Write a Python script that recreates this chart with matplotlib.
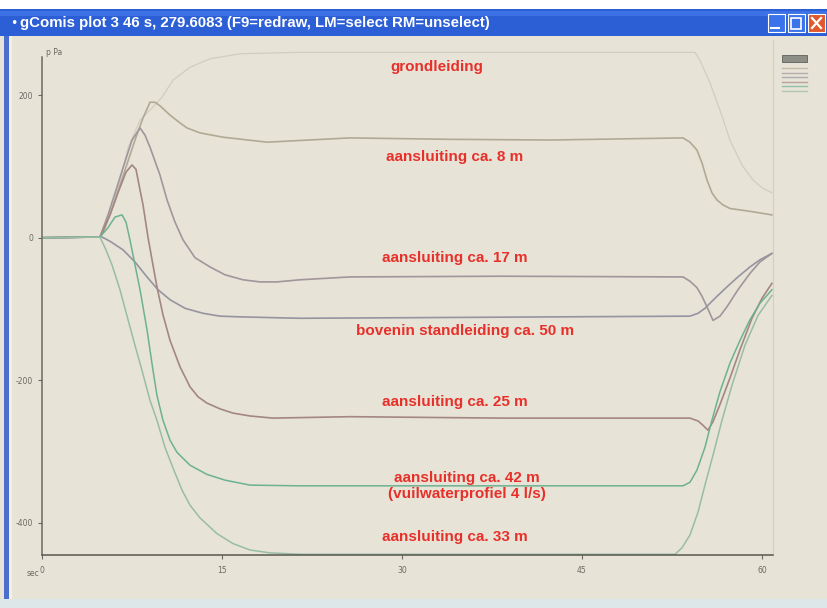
import matplotlib
matplotlib.use("Agg")
from matplotlib import pyplot as plt
from matplotlib.patches import Rectangle
from matplotlib.lines import Line2D

plt.rcParams["axes.unicode_minus"] = False

# tijd (s) en druk (Pa) per meetpunt
t_grond = [0, 4.83, 5.67, 6.5, 7.17, 8.17, 9.0, 10.0, 10.92, 12.33, 14.0, 16.5, 21.5, 54.42,
           54.83, 55.67, 56.5, 57.33, 58.33, 59.25, 60.0, 60.83]
p_grond = [0, 1, 32, 81, 126, 165, 179, 197, 221, 239, 251, 258, 260, 260,
           249, 217, 179, 137, 102, 81, 70, 63]

t_8m = [0, 4.83, 5.17, 6.08, 6.92, 7.75, 8.42, 9.0, 9.42, 9.83, 10.67, 11.5, 12.08, 13.17,
        15.08, 18.75, 25.67, 34.0, 42.33, 53.42, 54.0, 54.58, 55.0, 55.42, 55.83, 56.25,
        56.75, 57.33, 59.0, 60.83]
p_8m = [0, 1, 10, 52, 95, 137, 168, 190, 190, 185, 172, 161, 154, 147,
        141, 134, 140, 138, 137, 140, 134, 123, 105, 81, 63, 53,
        46, 41, 37, 32]

t_17m = [0, 4.83, 5.5, 6.17, 6.83, 7.5, 8.17, 8.58, 9.0, 9.83, 10.42, 11.08, 11.75, 12.75,
         14.0, 15.25, 16.75, 18.17, 19.58, 21.5, 25.67, 38.17, 53.42, 54.0, 54.58, 55.0,
         55.42, 55.92, 56.5, 57.08, 58.0, 59.0, 59.83, 60.83]
p_17m = [0, 1, 32, 67, 102, 137, 154, 144, 127, 88, 53, 22, -3, -28,
         -41, -52, -59, -62, -62, -59, -55, -54, -55, -61, -70, -82,
         -97, -116, -110, -97, -73, -50, -34, -22]

t_50m = [0, 4.83, 5.0, 5.67, 6.75, 7.75, 8.75, 9.67, 10.67, 11.92, 13.42, 14.83, 16.5, 21.5,
         54.0, 54.67, 55.25, 56.08, 57.08, 58.0, 59.0, 59.83, 60.83]
p_50m = [0, 1, 1, -5, -17, -34, -55, -73, -87, -99, -106, -110, -111, -113,
         -110, -106, -99, -85, -69, -55, -41, -31, -22]

t_25m = [0, 4.83, 5.67, 6.33, 7.0, 7.5, 7.83, 8.17, 8.42, 8.83, 9.17, 9.58, 10.08, 10.67,
         11.5, 12.33, 13.0, 13.75, 14.83, 15.92, 17.33, 19.25, 25.67, 38.17, 54.0, 54.67,
         55.08, 55.5, 55.92, 56.5, 57.33, 58.17, 59.17, 60.0, 60.83]
p_25m = [0, 1, 32, 63, 92, 102, 96, 67, 46, 1, -31, -69, -108, -144,
         -181, -209, -223, -232, -240, -246, -250, -253, -251, -253, -253, -257,
         -263, -270, -258, -234, -197, -157, -113, -85, -64]

t_42m = [0, 4.83, 5.5, 6.08, 6.67, 7.0, 7.33, 7.75, 8.17, 8.75, 9.25, 9.58, 10.08, 10.67,
         11.25, 12.33, 13.75, 15.25, 17.33, 21.5, 53.42, 54.0, 54.58, 55.25, 55.83, 56.5,
         57.33, 58.17, 59.0, 59.83, 60.83]
p_42m = [0, 1, 14, 29, 32, 22, -3, -38, -73, -129, -186, -221, -256, -284,
         -301, -319, -332, -340, -347, -348, -348, -343, -326, -294, -256, -216,
         -176, -144, -115, -92, -73]

t_33m = [0, 4.83, 5.33, 5.83, 6.5, 7.17, 7.75, 8.33, 9.0, 9.58, 10.25, 10.92, 11.67, 12.33,
         13.17, 14.58, 15.92, 17.33, 19.0, 21.5, 52.75, 53.33, 54.0, 54.67, 55.25, 55.92,
         56.67, 57.5, 58.58, 59.67, 60.83]
p_33m = [0, 1, -17, -38, -73, -115, -151, -186, -228, -256, -294, -323, -354, -375,
         -393, -415, -429, -438, -442, -444, -444, -435, -417, -385, -347, -305,
         -256, -207, -151, -109, -81]

reeksen = [
    (t_grond, p_grond, "#d0cdc3", 0.9),
    (t_8m, p_8m, "#b0aa94", 1.2),
    (t_17m, p_17m, "#a0969b", 1.2),
    (t_50m, p_50m, "#9594a0", 1.2),
    (t_25m, p_25m, "#a48683", 1.2),
    (t_42m, p_42m, "#6cb291", 1.1),
    (t_33m, p_33m, "#98bda5", 1.1),
]

# tekst bij de lijnen: (t, p, tekst)
labels = [
    (32.9, 239, "grondleiding"),
    (34.4, 113, "aansluiting ca. 8 m"),
    (34.4, -28, "aansluiting ca. 17 m"),
    (35.25, -131, "bovenin standleiding ca. 50 m"),
    (34.4, -230, "aansluiting ca. 25 m"),
    (35.4, -337, "aansluiting ca. 42 m"),
    (35.4, -359, "(vuilwaterprofiel 4 l/s)"),
    (34.4, -420, "aansluiting ca. 33 m"),
]

x_ticks = [0, 15, 30, 45, 60]
y_ticks = [200, 0, -200, -400]

bg = "#e7e3d7"
W, H = 827, 608
fig = plt.figure(figsize=(8.27, 6.08), dpi=100)
fig.patch.set_facecolor(bg)

# vensterrand en titelbalk
fig.add_artist(Rectangle((0, 1 - 9 / H), 1, 9 / H, transform=fig.transFigure,
                         facecolor="white", edgecolor="none"))
fig.add_artist(Rectangle((0, 1 - 36 / H), 1, 27 / H, transform=fig.transFigure,
                         facecolor="#2c5fd6", edgecolor="none"))
fig.add_artist(Rectangle((0, 1 - 16 / H), 1, 5 / H, transform=fig.transFigure,
                         facecolor="#3d72e6", edgecolor="none"))
fig.add_artist(Rectangle((4 / W, 0), 5 / W, 1 - 36 / H, transform=fig.transFigure,
                         facecolor="#4a6fcc", edgecolor="none"))
fig.add_artist(Rectangle((9 / W, 0), 3 / W, 1 - 36 / H, transform=fig.transFigure,
                         facecolor="#f1efe6", edgecolor="none"))
fig.add_artist(Rectangle((0, 0), 1, 9 / H, transform=fig.transFigure,
                         facecolor="#dde6e8", edgecolor="none"))
fig.text(10 / W, 1 - 23 / H, "\u2022", color="white", fontsize=9, va="center")
fig.text(20 / W, 1 - 23 / H,
         "gComis plot 3 46 s, 279.6083 (F9=redraw, LM=select RM=unselect)",
         color="white", fontsize=10.8, fontweight="bold", va="center",
         family=["Liberation Sans", "DejaVu Sans"])
for x0, kleur in [(768, "#3b74ea"), (788, "#3b74ea"), (808, "#e0582c")]:
    fig.add_artist(Rectangle((x0 / W, 1 - 32 / H), 17 / W, 18 / H, transform=fig.transFigure,
                             facecolor=kleur, edgecolor="white", linewidth=0.8))
fig.add_artist(Line2D([771 / W, 779 / W], [1 - 28 / H, 1 - 28 / H], transform=fig.transFigure,
                      color="white", lw=1.5))
fig.add_artist(Rectangle((791 / W, 1 - 29 / H), 10 / W, 11 / H, transform=fig.transFigure,
                         facecolor="none", edgecolor="white", linewidth=1.2))
fig.add_artist(Line2D([812 / W, 821 / W], [1 - 28 / H, 1 - 18 / H], transform=fig.transFigure,
                      color="white", lw=1.6))
fig.add_artist(Line2D([812 / W, 821 / W], [1 - 18 / H, 1 - 28 / H], transform=fig.transFigure,
                      color="white", lw=1.6))

# plotgebied
ax = fig.add_axes([42 / W, 1 - 555 / H, (773 - 42) / W, (555 - 40) / H])
ax.set_facecolor(bg)
for t, p, kleur, lw in reeksen:
    ax.plot(t, p, color=kleur, lw=lw, solid_joinstyle="round")

for t, p, tekst in labels:
    ax.text(t, p, tekst, color="#e8302a", fontsize=11, fontweight="bold",
            ha="center", va="center", family=["Liberation Sans", "DejaVu Sans"])

ax.set_xlim(0, 60.92)
ax.set_ylim(-445, 277.3)
ax.spines["top"].set_visible(False)
ax.spines["right"].set_color("#d2cfc4")
ax.spines["left"].set_color("#6a6a64")
ax.spines["bottom"].set_color("#55574f")
ax.spines["left"].set_bounds(-445, 253)
ax.spines["left"].set_linewidth(1.1)
ax.spines["bottom"].set_linewidth(1.1)
ax.set_xticks(x_ticks)
ax.set_xticklabels(["0"] + [str(v) for v in x_ticks[1:]])
ax.set_yticks(y_ticks)
ax.tick_params(axis="both", direction="out", length=3, width=0.8, colors="#6a6a64",
               labelsize=5.5, labelcolor="#6a6a64")
ax.tick_params(axis="x", pad=5)
ax.text(0.005, 0.985, "p Pa", transform=ax.transAxes, fontsize=5.5, color="#6a6a64",
        va="top", ha="left")
ax.text(-0.004, -0.027, "sec", transform=ax.transAxes, fontsize=5.5, color="#6a6a64",
        va="top", ha="right")

# legendavakje rechtsboven
fig.add_artist(Rectangle((782 / W, 1 - 62 / H), 25 / W, 7 / H, transform=fig.transFigure,
                         facecolor="#8d8e86", edgecolor="#5f605a", linewidth=0.6))
for i, (t, p, kleur, lw) in enumerate(reeksen[1:]):
    y = 1 - (68 + 4.6 * i) / H
    fig.add_artist(Line2D([782 / W, 807 / W], [y, y], transform=fig.transFigure,
                          color=kleur, lw=1.0, alpha=0.7))

fig.savefig("out.png", dpi=100, facecolor=fig.get_facecolor())
